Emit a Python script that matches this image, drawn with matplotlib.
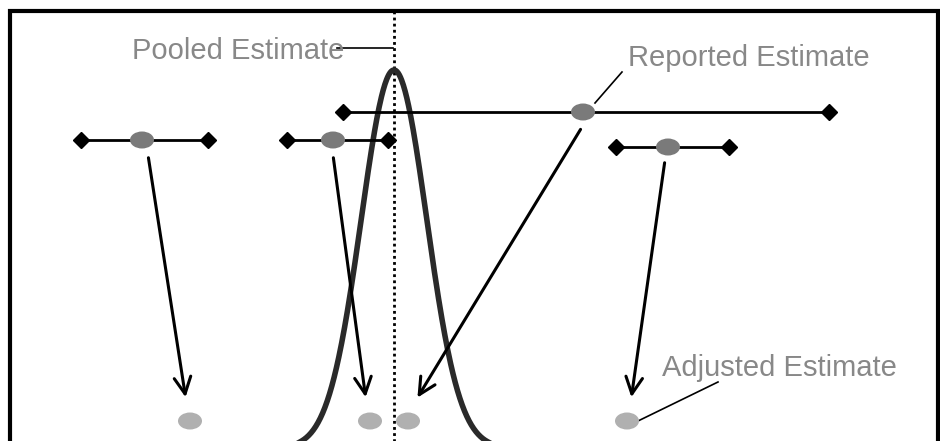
import numpy as np
import matplotlib.pyplot as plt
from matplotlib.patches import Ellipse

# reported estimates with their interval ends (x) and row (y), in picture units
reported_x = [142, 333, 583, 668]
reported_y = [140, 140, 112, 147]
lower = [81, 287, 343, 616]
upper = [208, 388, 829, 729]

# adjusted (shrunken) estimates
adjusted_x = [190, 370, 408, 627]
adjusted_y = [421, 421, 421, 421]

# arrow tails / heads
arrow_tail = [(148, 155), (333, 155), (582, 127), (665, 160)]
arrow_head = [(186, 400), (366, 400), (416, 400), (631, 400)]

# pooled distribution
pooled_mean = 394
pooled_sd = 32.7
pooled_top = 70
pooled_base = 448

fig = plt.figure(figsize=(9.4, 4.41), dpi=100)
ax = fig.add_axes([0, 0, 1, 1])
ax.set_xlim(0, 940)
ax.set_ylim(441, 0)
ax.axis('off')

# frame
ax.plot([10, 10, 938, 938], [445, 11, 11, 445], color='black', lw=3, solid_joinstyle='miter')

# pooled estimate line
ax.plot([pooled_mean, pooled_mean], [11, 441], color='black', lw=2, ls=(0, (1, 1.2)))

# normal curve
xs = np.linspace(280, 510, 400)
ys = pooled_base - (pooled_base - pooled_top) * np.exp(-(xs - pooled_mean) ** 2 / (2 * pooled_sd ** 2))
ax.plot(xs, ys, color='#2a2a2a', lw=4)

# intervals
for lo, hi, y in zip(lower, upper, reported_y):
    ax.plot([lo, hi], [y, y], color='black', lw=2, zorder=3)
    ax.plot([lo, hi], [y, y], ls='none', marker='D', ms=8, color='black', zorder=4)

for x, y in zip(reported_x, reported_y):
    ax.add_patch(Ellipse((x, y), 24, 17, facecolor='#7a7a7a', edgecolor='none', zorder=5))

for x, y in zip(adjusted_x, adjusted_y):
    ax.add_patch(Ellipse((x, y), 24, 17, facecolor='#b0b0b0', edgecolor='none', zorder=5))

for t, h in zip(arrow_tail, arrow_head):
    ax.annotate('', xy=h, xytext=t,
                arrowprops=dict(arrowstyle='->,head_length=1.2,head_width=0.6', color='black', lw=2.2))

# labels
font = dict(family=['Liberation Sans', 'DejaVu Sans'], fontsize=21, color='#888888')
ax.text(132, 51, 'Pooled Estimate', ha='left', va='center', **font)
ax.plot([337, 393], [48, 48], color='black', lw=1.2)

ax.text(628, 58, 'Reported Estimate', ha='left', va='center', **font)
ax.plot([622, 595], [72, 103], color='black', lw=1.2)

ax.text(662, 368, 'Adjusted Estimate', ha='left', va='center', **font)
ax.plot([718, 638], [382, 421], color='black', lw=1.2)

fig.savefig('out.png', dpi=100)
